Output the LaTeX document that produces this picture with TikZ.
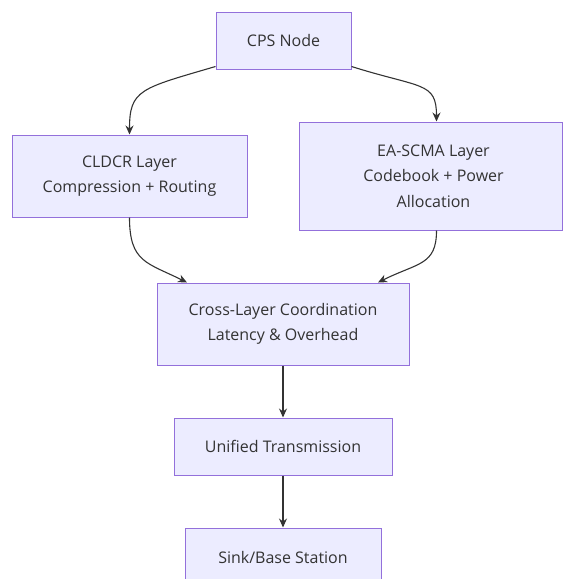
\documentclass[tikz,border=0pt]{standalone}
\usepackage{fontspec}
\setmainfont{Open Sans}
\usetikzlibrary{arrows.meta,calc}
\definecolor{nodefill}{HTML}{ECECFF}
\definecolor{nodeborder}{HTML}{9370DB}
\definecolor{txt}{HTML}{333333}
\definecolor{edge}{HTML}{333333}
\tikzset{
  box/.style={rectangle, draw=nodeborder, fill=nodefill, line width=1pt, align=center,
    text=txt, font=\fontsize{16}{25.5}\selectfont, inner sep=0pt},
  conn/.style={draw=edge, line width=1.1pt, -{Stealth[length=9pt,width=8pt]}}
}
\begin{document}
\begin{tikzpicture}[x=1pt,y=-1pt]
\useasboundingbox (0,0) rectangle (563,579);
\node[box, minimum width=135, minimum height=57] (cps) at (283.5,40.5) {CPS Node};
\node[box, minimum width=235, minimum height=82] (cldcr) at (129.5,176) {CLDCR Layer\\Compression + Routing};
\node[box, minimum width=263, minimum height=108] (ea) at (430.5,176) {\hspace*{6pt}EA-SCMA Layer\\\hspace*{6pt}Codebook + Power\\\hspace*{6pt}Allocation};
\node[box, minimum width=252, minimum height=82] (cross) at (283,324) {Cross-Layer Coordination\\Latency \& Overhead};
\node[box, minimum width=218, minimum height=57] (unif) at (283,446.5) {Unified Transmission};
\node[box, minimum width=196, minimum height=58] (sink) at (283,557) {Sink/Base Station};
\draw[conn] ([yshift=3pt]cps.south west) .. controls ++(-75,22) and ++(0,-45) .. (cldcr.north);
\draw[conn] ([yshift=3pt]cps.south east) .. controls ++(70,22) and ++(0,-40) .. ([xshift=6pt]ea.north);
\draw[conn] (cldcr.south) .. controls ++(0,45) and ++(-40,-20) .. ([xshift=-96pt]cross.north);
\draw[conn] ([xshift=6pt]ea.south) .. controls ++(0,35) and ++(40,-20) .. ([xshift=95pt]cross.north);
\draw[conn] (cross) -- (unif);
\draw[conn] (unif) -- (sink);
\end{tikzpicture}
\end{document}
